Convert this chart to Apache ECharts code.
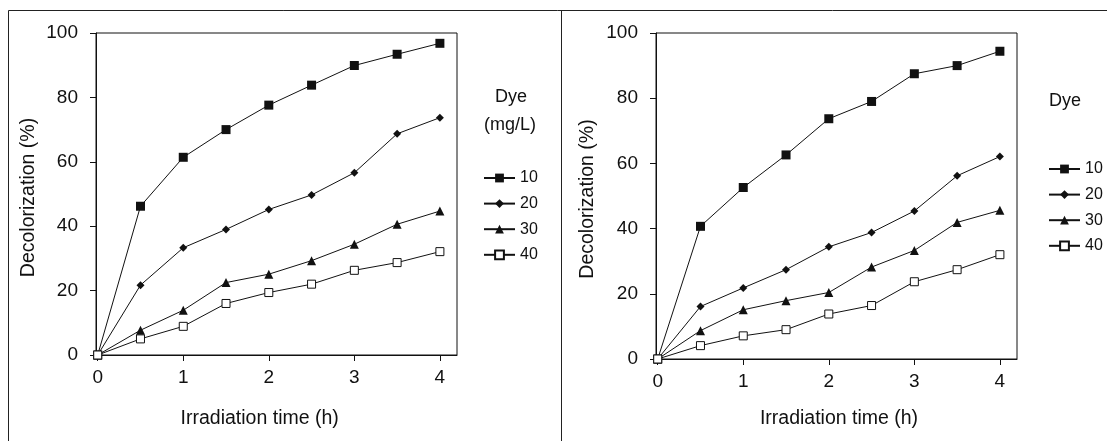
<!DOCTYPE html>
<html>
<head>
<meta charset="utf-8">
<title>Decolorization</title>
<script src="https://cdn.jsdelivr.net/npm/echarts@6/dist/echarts.min.js"></script>
<style>
  html, body { margin: 0; padding: 0; background: #fff; }
  #main { width: 1107px; height: 441px; }
</style>
</head>
<body>
<div id="main"></div>
<script>
// 照射时间 (h)
const times = [0, 0.5, 1, 1.5, 2, 2.5, 3, 3.5, 4];
const xTicks = [0, 1, 2, 3, 4];
const dyeNames = ['10', '20', '30', '40'];

// 左图
const left10 = [0, 46.2, 61.4, 70, 77.6, 83.8, 89.9, 93.4, 96.8];
const left20 = [0, 21.7, 33.3, 39, 45.2, 49.7, 56.6, 68.7, 73.7];
const left30 = [0, 7.7, 13.9, 22.5, 25.1, 29.3, 34.4, 40.6, 44.7];
const left40 = [0, 5, 8.9, 16, 19.4, 22, 26.3, 28.7, 32.1];

// 右图
const right10 = [0, 40.7, 52.6, 62.6, 73.7, 79, 87.5, 90, 94.4];
const right20 = [0, 16.1, 21.8, 27.4, 34.4, 38.8, 45.4, 56.2, 62.1];
const right30 = [0, 8.7, 15.1, 17.9, 20.4, 28.2, 33.3, 41.9, 45.6];
const right40 = [0, 4.1, 7.1, 9, 13.8, 16.4, 23.7, 27.4, 32];

const ink = '#111';
const font = '"Liberation Sans", Arial, sans-serif';

// 每个浓度的标记样式
const markers = {
    '10': { symbol: 'rect', symbolSize: 9, itemStyle: { color: ink } },
    '20': { symbol: 'diamond', symbolSize: 8, itemStyle: { color: ink } },
    '30': { symbol: 'triangle', symbolSize: 9, itemStyle: { color: ink } },
    '40': { symbol: 'rect', symbolSize: 8, itemStyle: { color: '#fff', borderColor: ink, borderWidth: 1 } }
};

const makeSeries = (name, values, idx) => ({
    name: name,
    type: 'line',
    xAxisIndex: idx,
    yAxisIndex: idx,
    data: times.map((t, i) => [t, values[i]]),
    symbol: markers[name].symbol,
    symbolSize: markers[name].symbolSize,
    itemStyle: markers[name].itemStyle,
    lineStyle: { color: ink, width: 1 },
    showSymbol: true,
    animation: false
});

const makeX = (idx) => ({
    type: 'value',
    gridIndex: idx,
    min: -0.02,
    max: 4.2,
    splitLine: { show: false },
    axisLine: { onZero: false, lineStyle: { color: ink, width: 1 } },
    axisTick: { customValues: xTicks, length: 6, lineStyle: { color: ink } },
    axisLabel: { customValues: xTicks, margin: 13, fontSize: 19, color: ink, fontFamily: font }
});

const makeY = (idx) => ({
    type: 'value',
    gridIndex: idx,
    min: 0,
    max: 100,
    interval: 20,
    splitLine: { show: false },
    axisLine: { onZero: false, lineStyle: { color: ink, width: 1 } },
    axisTick: { length: 6, lineStyle: { color: ink } },
    axisLabel: { margin: 18, fontSize: 19, color: ink, fontFamily: font }
});

const makeLegend = (left, top) => ({
    data: dyeNames,
    orient: 'vertical',
    left: left,
    top: top,
    itemWidth: 31,
    itemHeight: 11,
    itemGap: 9.6,
    selectedMode: false,
    textStyle: { fontSize: 16, lineHeight: 16, color: ink, fontFamily: font }
});

const text = (x, y, str, size, rotate) => ({
    type: 'text',
    x: x,
    y: y,
    rotation: rotate ? Math.PI / 2 : 0,
    style: {
        text: str,
        fontSize: size,
        fontFamily: font,
        fill: ink,
        textAlign: 'center',
        textVerticalAlign: 'middle'
    }
});

const frameLine = (x1, y1, x2, y2) => ({
    type: 'line',
    shape: { x1: x1, y1: y1, x2: x2, y2: y2 },
    style: { stroke: '#222', lineWidth: 1 }
});

const chart = echarts.init(document.getElementById('main'), null, { renderer: 'canvas' });

const option = {
    backgroundColor: '#fff',
    animation: false,
    grid: [
        { left: 96, top: 33, width: 361, height: 322, show: true, borderColor: ink, borderWidth: 1, outerBoundsMode: 'none' },
        { left: 656, top: 33, width: 361, height: 326, show: true, borderColor: ink, borderWidth: 1, outerBoundsMode: 'none' }
    ],
    xAxis: [makeX(0), makeX(1)],
    yAxis: [makeY(0), makeY(1)],
    legend: [makeLegend(478, 165), makeLegend(1043, 156)],
    series: [
        makeSeries('10', left10, 0),
        makeSeries('20', left20, 0),
        makeSeries('30', left30, 0),
        makeSeries('40', left40, 0),
        makeSeries('10', right10, 1),
        makeSeries('20', right20, 1),
        makeSeries('30', right30, 1),
        makeSeries('40', right40, 1)
    ],
    graphic: [
        // 外框
        frameLine(8.5, 10.5, 1107, 10.5),
        frameLine(8.5, 10.5, 8.5, 441),
        frameLine(561.5, 10.5, 561.5, 441),
        // 轴标题
        text(28.6, 197.5, 'Decolorization (%)', 19.5, true),
        text(259.7, 419, 'Irradiation time (h)', 19.5, false),
        text(588, 199, 'Decolorization (%)', 19.5, true),
        text(839, 419, 'Irradiation time (h)', 19.5, false),
        // 图例标题
        text(511, 97, 'Dye', 18, false),
        text(510, 125, '(mg/L)', 18, false),
        text(1065, 101, 'Dye', 18, false)
    ]
};

option && chart.setOption(option);
</script>
</body>
</html>
